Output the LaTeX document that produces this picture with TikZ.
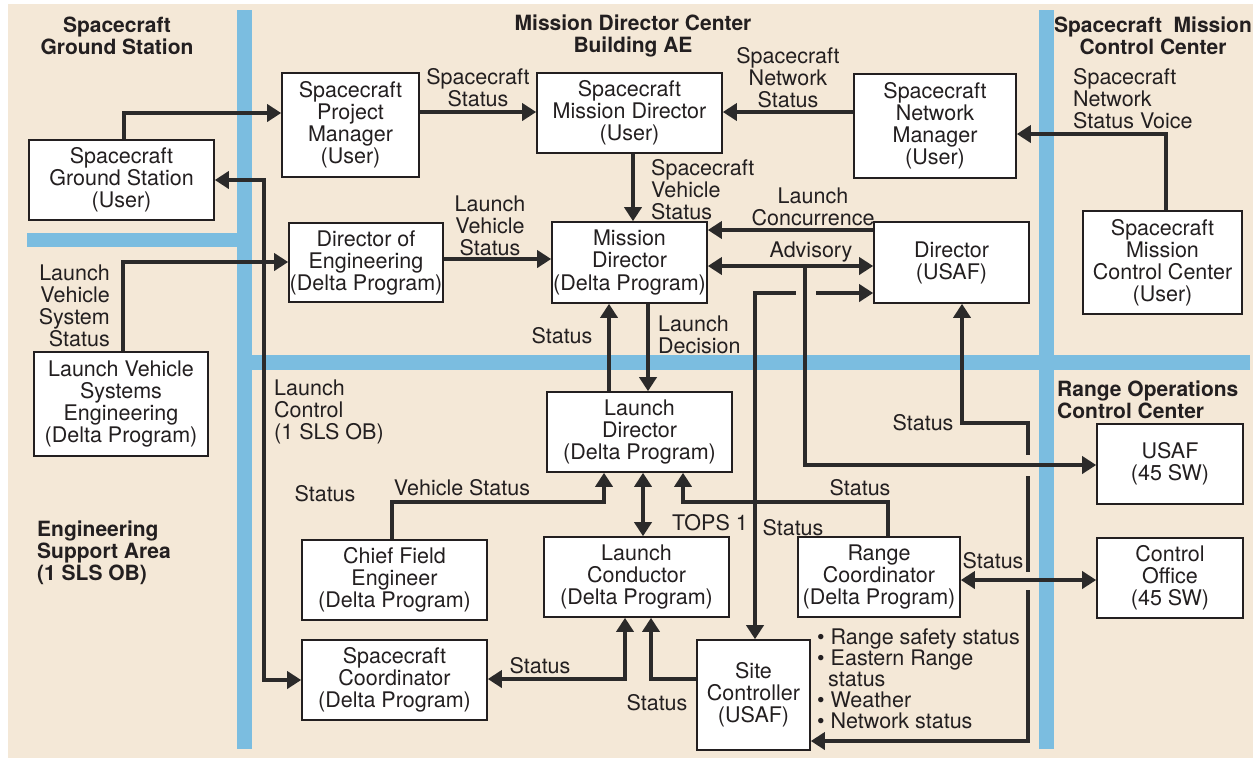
\documentclass[tikz,border=0pt]{standalone}
\usepackage{fontspec}
\setmainfont{TeX Gyre Heros}
\usetikzlibrary{arrows.meta}
\definecolor{beige}{HTML}{F4E8D7}
\definecolor{band}{HTML}{7BBDE0}
\definecolor{ink}{HTML}{231F20}
\definecolor{wire}{HTML}{2B2A2A}
\begin{document}
\begin{tikzpicture}[x=1pt,y=-1pt,
  >={Triangle[length=14pt,width=17pt]},
  every node/.style={text=ink, font=\fontsize{21.5}{22}\selectfont},
  box/.style={draw=ink, line width=1.6pt, fill=white, align=center, inner sep=0pt},
  lbl/.style={align=center, inner sep=0pt},
  lbll/.style={align=left, inner sep=0pt, anchor=west},
  lblr/.style={align=right, inner sep=0pt, anchor=east},
  ttl/.style={align=center, inner sep=0pt, font=\fontsize{21}{22}\selectfont\bfseries},
  ttll/.style={align=left, inner sep=0pt, anchor=west, font=\fontsize{21}{22}\selectfont\bfseries},
  conn/.style={draw=wire, line width=4.5pt},
  bandfill/.style={fill=band}
]
\useasboundingbox (0,0) rectangle (1253,761);
\fill[white] (0,0) rectangle (1253,761);
\fill[beige] (8,4) rectangle (1253,758);
% blue bands
\fill[bandfill] (237,10) rectangle (252,749);
\fill[bandfill] (27,233) rectangle (237,247);
\fill[bandfill] (252,355) rectangle (1250,370);
\fill[bandfill] (1039,10) rectangle (1054,749);

% titles
\node[ttl] (t1) at (117,36) {Spacecraft\\Ground Station};
\node[ttl] (t2) at (633,36) {Mission Director Center\\Building AE};
\node[ttl] (t3) at (1153,36) {Spacecraft~~Mission\\Control Center};
\node[ttll] (t4) at (1057,400) {Range Operations\\Control Center};
\node[ttll] (t5) at (37,553) {Engineering\\Support Area\\(1 SLS OB)};

% boxes
\node[box, minimum width=185pt, minimum height=80pt] (sgs) at (121.5,180) {Spacecraft\\Ground Station\\(User)};
\node[box, minimum width=137pt, minimum height=104pt] (spm) at (350.5,125) {Spacecraft\\Project\\Manager\\(User)};
\node[box, minimum width=185pt, minimum height=80pt] (smd) at (629.5,113) {Spacecraft\\Mission Director\\(User)};
\node[box, minimum width=162pt, minimum height=104pt] (snm) at (935,126) {Spacecraft\\Network\\Manager\\(User)};
\node[box, minimum width=159pt, minimum height=103pt] (smcc) at (1162.5,262.5) {Spacecraft\\Mission\\Control Center\\(User)};
\node[box, minimum width=155pt, minimum height=81pt] (dusaf) at (951.5,262.5) {Director\\(USAF)};
\node[box, minimum width=155pt, minimum height=81pt] (md) at (629.5,262.5) {Mission\\Director\\(Delta Program)};
\node[box, minimum width=154pt, minimum height=79pt] (doe) at (366,262.5) {Director of\\Engineering\\(Delta Program)};
\node[box, minimum width=174pt, minimum height=104pt] (lvse) at (121,404) {Launch Vehicle\\Systems\\Engineering\\(Delta Program)};
\node[box, minimum width=185pt, minimum height=80pt] (ld) at (639.5,432) {Launch\\Director\\(Delta Program)};
\node[box, minimum width=185pt, minimum height=80pt] (cfe) at (394.5,580) {Chief Field\\Engineer\\(Delta Program)};
\node[box, minimum width=185pt, minimum height=80pt] (lc) at (636.5,577) {Launch\\Conductor\\(Delta Program)};
\node[box, minimum width=162pt, minimum height=80pt] (rc) at (879,577) {Range\\Coordinator\\(Delta Program)};
\node[box, minimum width=185pt, minimum height=80pt] (scoord) at (394.5,680) {Spacecraft\\Coordinator\\(Delta Program)};
\node[box, minimum width=113pt, minimum height=110pt] (site) at (753.5,695) {Site\\Controller\\(USAF)};
\node[box, minimum width=146pt, minimum height=80pt] (usaf) at (1170,464) {USAF\\(45 SW)};
\node[box, minimum width=146pt, minimum height=80pt] (co) at (1170,578) {Control\\Office\\(45 SW)};

% connectors
\draw[conn,->] (sgs.north -| 124,0) |- (spm.west |- 0,113);
\draw[conn,->] (spm.east |- 0,112) -- (smd.west |- 0,112);
\draw[conn,->] (snm.west |- 0,112) -- (smd.east |- 0,112);
\draw[conn,->] (smcc.north -| 1166,0) |- (snm.east |- 0,134);
\draw[conn,->] (smd.south -| 633,0) -- (md.north -| 633,0);
\draw[conn,->] (doe.east |- 0,259) -- (md.west |- 0,259);
\draw[conn,->] (lvse.north -| 123,0) |- (doe.west |- 0,262);
\draw[conn,->] (dusaf.west |- 0,230) -- (md.east |- 0,230);
\draw[conn,<->] (md.east |- 0,266) -- (dusaf.west |- 0,266);
\coordinate (advb) at (805,266);
\draw[conn,->] (advb) |- (usaf.west |- 0,465);
\coordinate (sc1) at (796,293);
\coordinate (sc2) at (816,293);
\draw[conn,<-] (site.north -| 755,0) |- (sc1);
\draw[conn,->] (sc2) -- (dusaf.west |- 0,293);
\coordinate (st1) at (1028,455);
\coordinate (st2) at (1028,476);
\coordinate (st3) at (1028,572);
\coordinate (st4) at (1028,590);
\draw[conn,<-] (dusaf.south -| 962,0) |- (1028,423) -- (st1);
\draw[conn] (st2) -- (st3);
\draw[conn,->] (st4) |- (site.east |- 0,741);
\draw[conn,<->] (rc.east |- 0,580) -- (co.west |- 0,580);
\draw[conn,->] (rc.north -| 888,0) |- (683,502) -- (ld.south -| 683,0);
\draw[conn,->] (cfe.north -| 392,0) |- (604,502) -- (ld.south -| 604,0);
\draw[conn,<->] (ld.south -| 643,0) -- (lc.north -| 643,0);
\draw[conn,->] (ld.north -| 609,0) -- (md.south -| 609,0);
\draw[conn,->] (md.south -| 648,0) -- (ld.north -| 648,0);
\draw[conn,<->] (sgs.east |- 0,180) -| (264,680) -- (scoord.west |- 0,680);
\draw[conn,<->] (lc.south -| 625,0) |- (scoord.east |- 0,679);
\draw[conn,->] (site.west |- 0,679) -| (lc.south -| 651,0);

% labels
\node[lbl] (l1) at (478,88) {Spacecraft\\Status};
\node[lbl] (l2) at (788,78) {Spacecraft\\Network\\Status};
\node[lbll] (l3) at (1073,99) {Spacecraft\\Network\\Status Voice};
\node[lbll] (l4) at (651,190) {Spacecraft\\Vehicle\\Status};
\node[lbl] (l5) at (813,207) {Launch\\Concurrence};
\node[lbl] (l6) at (811,252) {Advisory};
\node[lbl] (l7) at (490,226) {Launch\\Vehicle\\Status};
\node[lblr] (l8) at (110,306) {Launch\\Vehicle\\System\\Status};
\node[lbl] (l9) at (562,336) {Status};
\node[lbll] (l10) at (658,335) {Launch\\Decision};
\node[lbll] (l11) at (274,412) {Launch\\Control\\(1 SLS OB)};
\node[lbl] (l12) at (923,423) {Status};
\node[lbl] (l13) at (325,494) {Status};
\node[lbl] (l14) at (462,488) {Vehicle Status};
\node[lbl] (l15) at (860,488) {Status};
\node[lbl] (l16) at (710,523) {TOPS 1};
\node[lbl] (l17) at (793,528) {Status};
\node[lbl] (l18) at (993,561) {Status};
\node[lbl] (l19) at (540,666) {Status};
\node[lbl] (l20) at (657,703) {Status};
\node[lbll, font=\fontsize{21.5}{21}\selectfont] (l21) at (817,679) {• Range safety status\\• Eastern Range\\\hspace*{11pt}status\\• Weather\\• Network status};
\end{tikzpicture}
\end{document}
